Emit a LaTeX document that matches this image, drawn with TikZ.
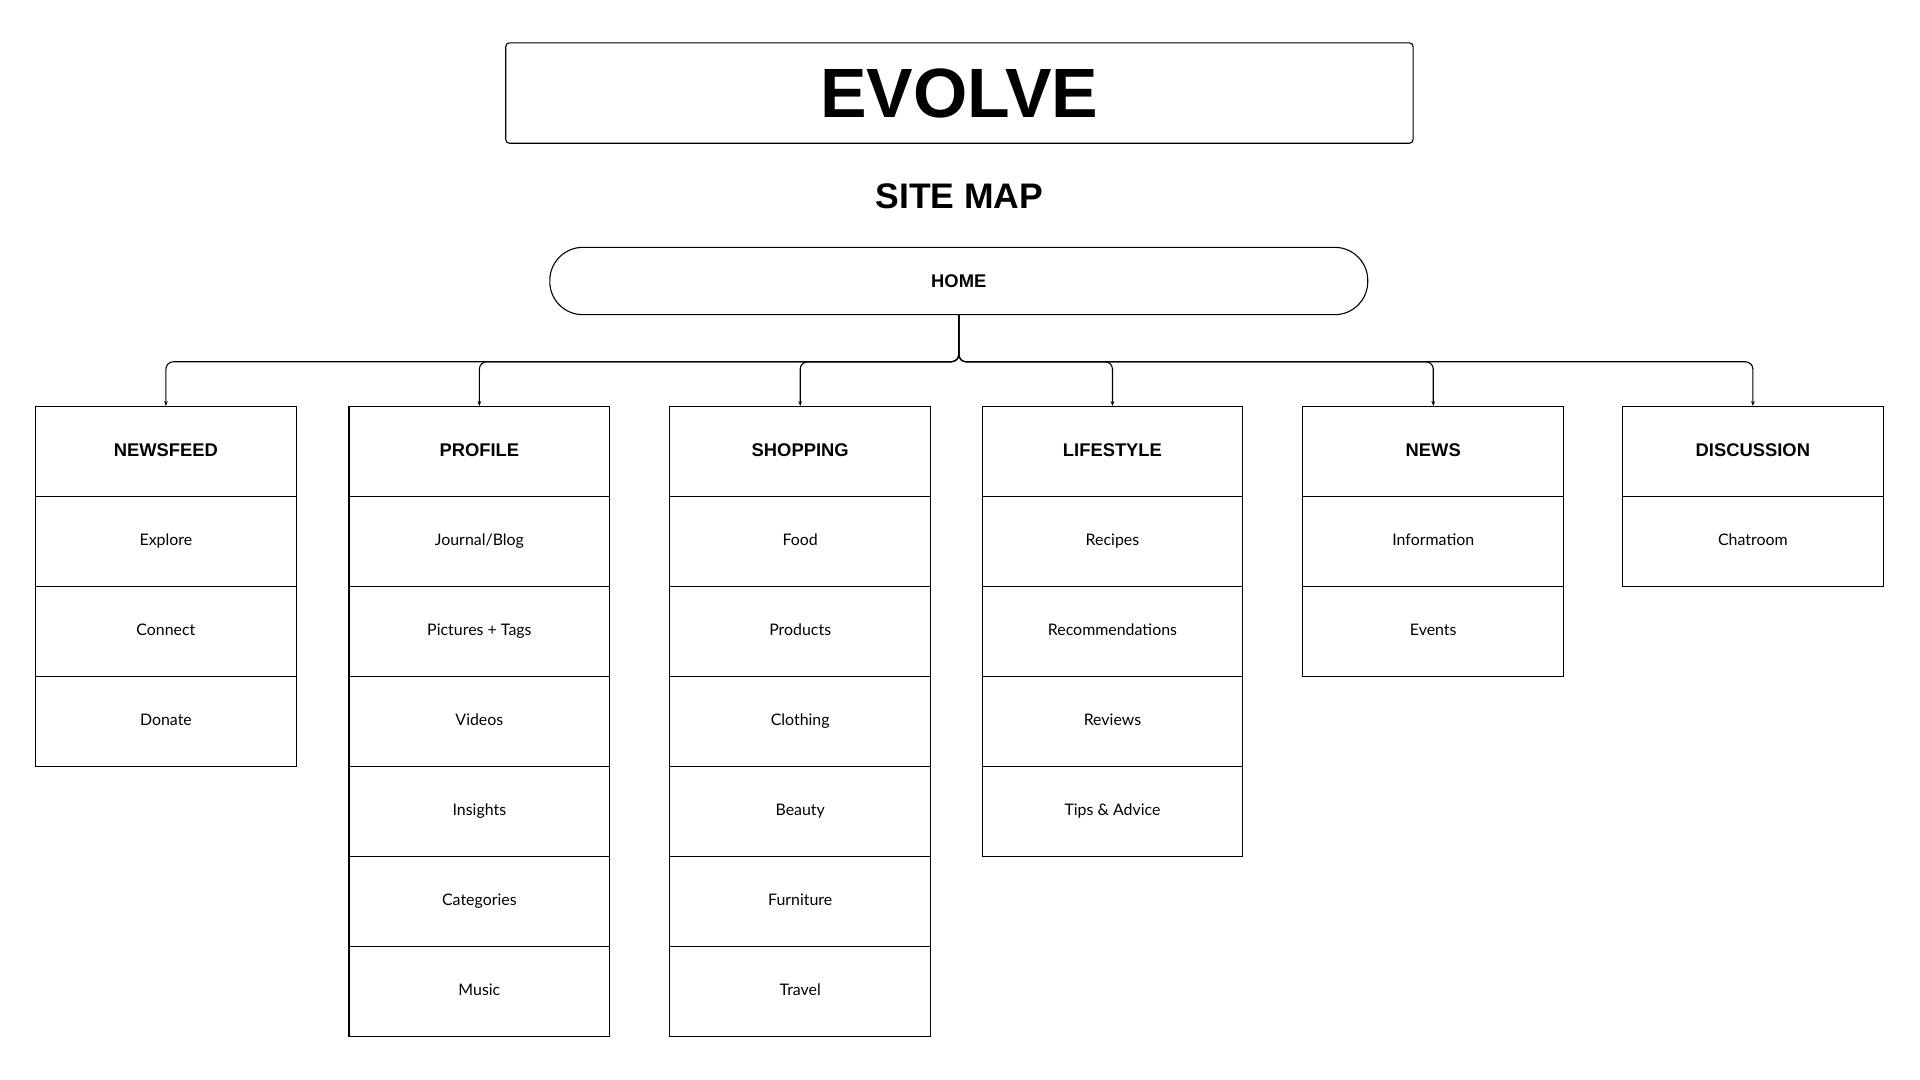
\documentclass[tikz,border=0pt]{standalone}
\usepackage{fontspec}
\setmainfont{Lato}
\newfontfamily\headfont{Liberation Sans}
\usetikzlibrary{arrows.meta}
\begin{document}
\begin{tikzpicture}[x=1pt,y=1pt,
  cell/.style={draw,line width=0.9pt,minimum width=213pt,minimum height=73.5pt,inner sep=0pt,text height=9pt,text depth=3pt,font=\fontsize{13}{15}\selectfont},
  head/.style={cell,text height=11pt,text depth=3pt,font=\headfont\bfseries\fontsize{15}{17}\selectfont},
  conn/.style={line width=0.9pt,rounded corners=6pt,-{Stealth[length=4pt,width=3pt]}}]
\useasboundingbox (0,0) rectangle (1568,-882);
\node[draw,line width=0.9pt,rounded corners=3pt,minimum width=741pt,minimum height=82pt,font=\headfont\bfseries\fontsize{57}{62}\selectfont] (title) at (783.5,-76) {EVOLVE};
\node[font=\headfont\bfseries\fontsize{29}{32}\selectfont] (sub) at (783.5,-160) {SITE MAP};
\node[draw,line width=0.9pt,rounded corners=27pt,minimum width=668pt,minimum height=55pt,font=\headfont\bfseries\fontsize{15}{17}\selectfont] (home) at (783,-229.5) {HOME};
\foreach \i/\x/\name/\items in {
  1/135.5/NEWSFEED/{Explore,Connect,Donate},
  2/391.5/PROFILE/{Journal/Blog,Pictures + Tags,Videos,Insights,Categories,Music},
  3/653.5/SHOPPING/{Food,Products,Clothing,Beauty,Furniture,Travel},
  4/908.5/LIFESTYLE/{Recipes,Recommendations,Reviews,Tips \& Advice},
  5/1170.5/NEWS/{Information,Events},
  6/1431.5/DISCUSSION/{Chatroom}}{
  \node[head] (c\i) at (\x,-368.75) {\name};
  \foreach \t [count=\k] in \items {
    \node[cell] (c\i-\k) at (\x,-368.75-73.5*\k) {\t};
  }
  \draw[conn] (home.south) -- ++(0,-38) -| (c\i.north);
}
\end{tikzpicture}
\end{document}
